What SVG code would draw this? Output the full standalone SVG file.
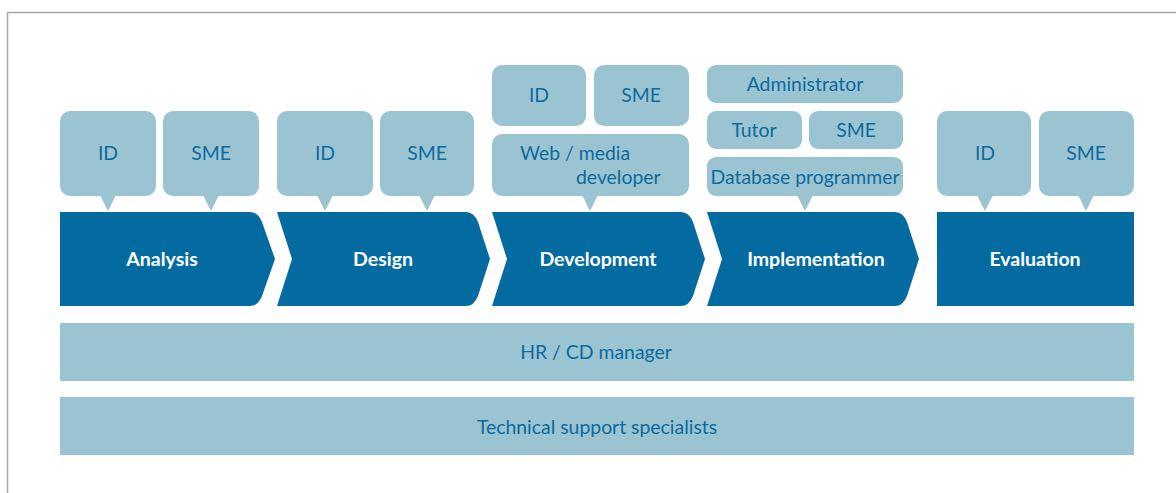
<svg xmlns="http://www.w3.org/2000/svg" width="1176" height="493" viewBox="0 0 1176 493">
<style>
.frame{fill:none;stroke:#a8a8a8;stroke-width:1.5}
.role{fill:#9bc4d3}
.ptr{fill:#9bc4d3}
.phase{fill:#046ba0}
.rt{font-family:Lato,"Noto Sans",sans-serif;font-size:19.4px;fill:#0d6a9c;text-anchor:middle}
.rts{font-family:Lato,"Noto Sans",sans-serif;font-size:19.4px;fill:#0d6a9c}
.pt{font-family:Lato,"Noto Sans",sans-serif;font-size:19.5px;font-weight:bold;fill:#ffffff;text-anchor:middle}
</style>
<rect width="1176" height="493" fill="#ffffff"/>
<path class="frame" d="M7.5,493 V12.5 H1176"/>

<g id="analysis">
  <rect class="role" x="60" y="111" width="96" height="85" rx="10"/>
  <polygon class="ptr" points="100,195 116,195 108,211"/>
  <text class="rt" x="108" y="160">ID</text>
  <rect class="role" x="163" y="111" width="96" height="85" rx="10"/>
  <polygon class="ptr" points="203,195 219,195 211,211"/>
  <text class="rt" x="211" y="160">SME</text>
  <path class="phase" d="M60,212 H250 Q258,212 262,222 L275,259 L262,296 Q258,306 250,306 H60 Z"/>
  <text class="pt" x="162" y="266">Analysis</text>
</g>

<g id="design">
  <rect class="role" x="277" y="111" width="96" height="85" rx="10"/>
  <polygon class="ptr" points="317,195 333,195 325,211"/>
  <text class="rt" x="325" y="160">ID</text>
  <rect class="role" x="380" y="111" width="94" height="85" rx="10"/>
  <polygon class="ptr" points="419,195 435,195 427,211"/>
  <text class="rt" x="427" y="160">SME</text>
  <path class="phase" d="M277,212 H466 Q474,212 478,222 L490,259 L478,296 Q474,306 466,306 H277 L292,259 Z"/>
  <text class="pt" x="383" y="266">Design</text>
</g>

<g id="development">
  <rect class="role" x="492" y="65" width="94" height="61" rx="10"/>
  <text class="rt" x="539" y="102">ID</text>
  <rect class="role" x="594" y="65" width="95" height="61" rx="10"/>
  <text class="rt" x="641" y="102">SME</text>
  <rect class="role" x="492" y="134" width="197" height="62" rx="10"/>
  <polygon class="ptr" points="582,195 598,195 590,211"/>
  <text class="rts" x="520" y="160">Web / media</text>
  <text class="rts" x="576" y="184">developer</text>
  <path class="phase" d="M492,212 H681 Q689,212 693,222 L705,259 L693,296 Q689,306 681,306 H492 L507,259 Z"/>
  <text class="pt" x="598" y="266">Development</text>
</g>

<g id="implementation">
  <rect class="role" x="707" y="65" width="196" height="38" rx="9"/>
  <text class="rt" x="805" y="91">Administrator</text>
  <rect class="role" x="707" y="111" width="95" height="38" rx="9"/>
  <text class="rt" x="754" y="137">Tutor</text>
  <rect class="role" x="809" y="111" width="94" height="38" rx="9"/>
  <text class="rt" x="856" y="137">SME</text>
  <rect class="role" x="707" y="157" width="196" height="39" rx="9"/>
  <polygon class="ptr" points="797,195 813,195 805,211"/>
  <text class="rt" x="805" y="184">Database programmer</text>
  <path class="phase" d="M707,212 H895 Q903,212 907,222 L919,259 L907,296 Q903,306 895,306 H707 L722,259 Z"/>
  <text class="pt" x="816" y="266">Implementation</text>
</g>

<g id="evaluation">
  <rect class="role" x="937" y="111" width="94" height="85" rx="10"/>
  <polygon class="ptr" points="977,195 993,195 985,211"/>
  <text class="rt" x="985" y="160">ID</text>
  <rect class="role" x="1039" y="111" width="95" height="85" rx="10"/>
  <polygon class="ptr" points="1078,195 1094,195 1086,211"/>
  <text class="rt" x="1086" y="160">SME</text>
  <rect class="phase" x="937" y="212" width="197" height="94"/>
  <text class="pt" x="1035" y="266">Evaluation</text>
</g>

<g id="hr-bar">
  <rect class="role" x="60" y="323" width="1074" height="58"/>
  <text class="rt" x="596" y="359">HR / CD manager</text>
</g>

<g id="tech-bar">
  <rect class="role" x="60" y="397" width="1074" height="58"/>
  <text class="rt" x="597" y="434">Technical support specialists</text>
</g>

<g id="connectors"></g>
</svg>
